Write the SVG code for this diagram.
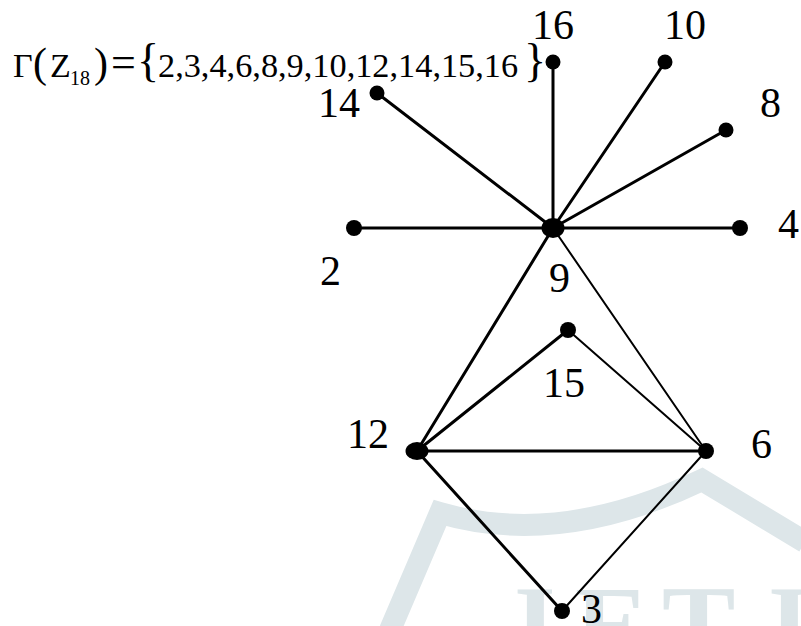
<svg xmlns="http://www.w3.org/2000/svg" width="801" height="626" viewBox="0 0 801 626">
<style>
  .lbl { font-family: "Liberation Serif", "Times New Roman", serif; font-size: 42px; fill: #000; }
  .f { font-family: "Liberation Serif", "Times New Roman", serif; fill: #000; }
  .e { stroke: #000; stroke-width: 3; stroke-linecap: round; fill: none; }
  .t { stroke: #000; stroke-width: 2; stroke-linecap: round; fill: none; }
  .n { fill: #000; }
  .wm { fill: none; stroke: #dde6e9; stroke-width: 22; stroke-linejoin: miter; }
  .wmt { font-family: "Liberation Serif", "Times New Roman", serif; font-size: 110px; font-weight: bold; fill: #dde6e9; }
</style>
<rect width="801" height="626" fill="#ffffff"/>
<g id="watermark">
  <path class="wm" d="M 390 630 L 440 513 Q 560 548 702 480 L 805 542"/>
  <text class="wmt" x="500 575 662 768 820" y="662">JETIR</text>
</g>
<g id="formula">
  <text class="f" x="13" y="77" font-size="34">Γ</text>
  <text class="f" x="33" y="77" font-size="42">(</text>
  <text class="f" x="50" y="77" font-size="34">Z</text>
  <text class="f" x="70" y="85" font-size="20">18</text>
  <text class="f" x="94" y="77" font-size="42">)</text>
  <text class="f" x="111" y="77" font-size="44">=</text>
  <text class="f" x="137" y="76" font-size="46">{</text>
  <text class="f" x="158" y="77" font-size="34.3">2,3,4,6,8,9,10,12,14,15,16</text>
  <text class="f" x="524" y="76" font-size="46">}</text>
</g>
<g id="edges">
  <line class="e" x1="553" y1="228" x2="553" y2="62"/>
  <line class="e" x1="553" y1="228" x2="665" y2="62"/>
  <line class="e" x1="553" y1="228" x2="726" y2="130"/>
  <line class="e" x1="553" y1="228" x2="377" y2="93"/>
  <line class="e" x1="553" y1="228" x2="354" y2="228"/>
  <line class="e" x1="553" y1="228" x2="740" y2="228"/>
  <line class="e" x1="553" y1="228" x2="417" y2="451"/>
  <line class="t" x1="553" y1="228" x2="706" y2="451"/>
  <line class="e" x1="417" y1="451" x2="568" y2="330"/>
  <line class="t" x1="568" y1="330" x2="706" y2="451"/>
  <line class="e" x1="417" y1="451" x2="706" y2="451"/>
  <line class="e" x1="417" y1="451" x2="562" y2="611"/>
  <line class="t" x1="706" y1="451" x2="562" y2="611"/>
</g>
<g id="node-9"><ellipse class="n" cx="553" cy="228" rx="11.5" ry="10"/><text class="lbl" x="549" y="292">9</text></g>
<g id="node-16"><circle class="n" cx="553" cy="62" r="7.5"/><text class="lbl" x="532" y="39">16</text></g>
<g id="node-10"><circle class="n" cx="665" cy="62" r="7.5"/><text class="lbl" x="664" y="39">10</text></g>
<g id="node-8"><circle class="n" cx="726" cy="130" r="7.5"/><text class="lbl" x="760" y="117">8</text></g>
<g id="node-14"><circle class="n" cx="377" cy="93" r="7.5"/><text class="lbl" x="318" y="117">14</text></g>
<g id="node-2"><circle class="n" cx="354" cy="228" r="8"/><text class="lbl" x="320" y="285">2</text></g>
<g id="node-4"><circle class="n" cx="740" cy="228" r="8"/><text class="lbl" x="778" y="238">4</text></g>
<g id="node-15"><circle class="n" cx="568" cy="330" r="8"/><text class="lbl" x="543" y="397">15</text></g>
<g id="node-12"><ellipse class="n" cx="417" cy="451" rx="11.5" ry="9"/><text class="lbl" x="347" y="448">12</text></g>
<g id="node-6"><circle class="n" cx="706" cy="451" r="8"/><text class="lbl" x="751" y="458">6</text></g>
<g id="node-3"><circle class="n" cx="562" cy="611" r="8"/><text class="lbl" x="581" y="623">3</text></g>
</svg>
